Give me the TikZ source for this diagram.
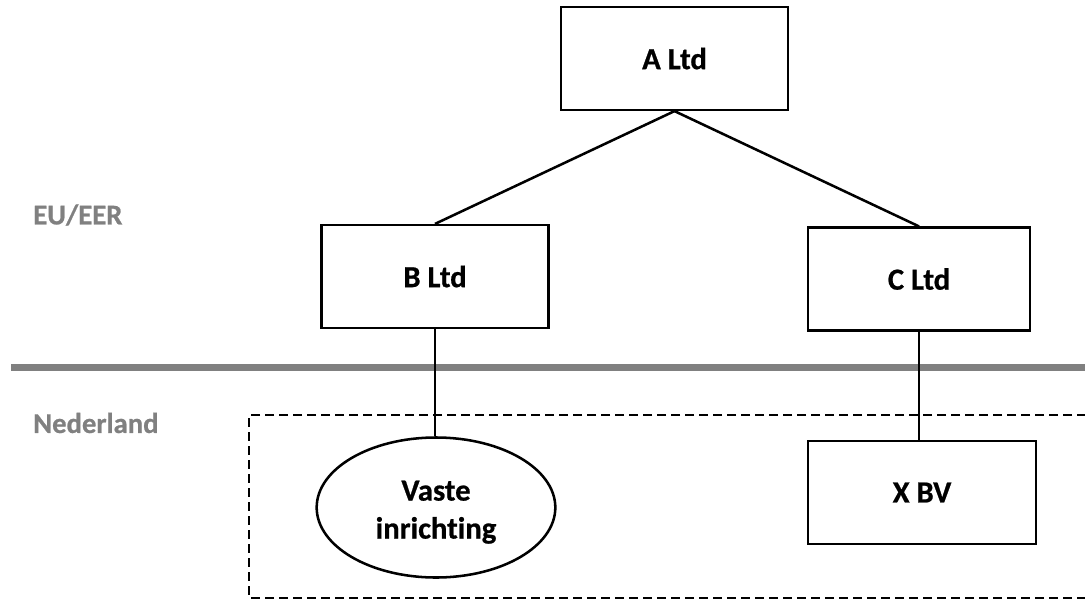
\documentclass[tikz,border=0pt]{standalone}
\usepackage{fontspec}
\setmainfont{Carlito}[Ligatures=CommonOff, BoldFeatures={FakeBold=0.7}]
\usetikzlibrary{shapes.geometric}
\definecolor{regiongrey}{HTML}{808080}
\tikzset{
  entity/.style={draw, line width=1.9pt, fill=white, font=\bfseries\fontsize{23}{27}\selectfont, inner sep=0pt},
  company/.style={entity, rectangle, minimum width=170pt, minimum height=77pt},
  branch/.style={entity, ellipse, minimum width=179pt, minimum height=105pt, align=center, font=\bfseries\fontsize{23}{28.5}\selectfont},
  link/.style={line width=1.9pt},
  region/.style={text=regiongrey, font=\bfseries\fontsize{21.5}{25}\selectfont, anchor=west, inner sep=0pt},
  border/.style={regiongrey, line width=5.25pt},
  domestic/.style={line width=1.9pt, dash pattern=on 6.5pt off 4pt}
}
\begin{document}
\begin{tikzpicture}[x=0.75pt, y=-0.75pt]
  \useasboundingbox (0,0) rectangle (1085,600);
  \clip (0,0) rectangle (1085,600);

  % border between EU/EER and the Netherlands
  \draw[border] (11,367) -- (1085,367);
  \node[region] (eu) at (33,215) {EU/EER};
  \node[region] (nl) at (33,423) {Nederland};

  % Dutch group, open to the right
  \draw[domestic] (1100,415) -- (249,415) -- (249,598) -- (1100,598);

  % entities
  \node[company] (a) at (674.5,58.5) {A Ltd};
  \node[company] (b) at (435,276.5) {B Ltd};
  \node[company, minimum width=166.5pt] (c) at (919,279) {C Ltd};
  \node[branch] (pe) at (436,507.5) {\rule{0pt}{22pt}Vaste\\inrichting};
  \node[company, minimum width=171pt] (x) at (922,492.5) {X BV};

  % ownership lines
  \draw[link] (a.south) -- (b.north);
  \draw[link] (a.south) -- (c.north);
  \draw[link] (b.south) -- (b.south |- pe.north);
  \draw[link] (c.south) -- (c.south |- x.north);
\end{tikzpicture}
\end{document}
